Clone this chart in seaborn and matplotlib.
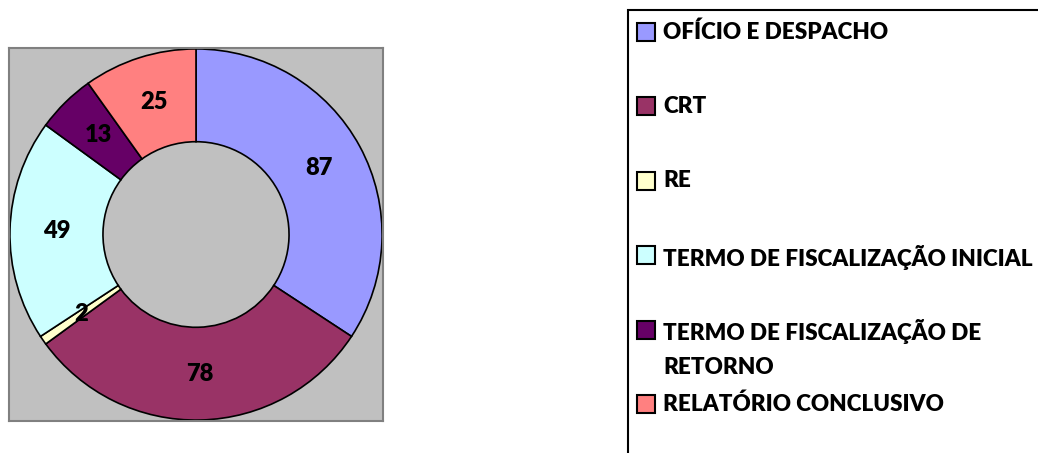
import matplotlib
matplotlib.use("Agg")
import matplotlib.pyplot as plt
from matplotlib.patches import Rectangle
import seaborn as sns

categories = ["OFÍCIO E DESPACHO", "CRT", "RE", "TERMO DE FISCALIZAÇÃO INICIAL",
              "TERMO DE FISCALIZAÇÃO DE\nRETORNO", "RELATÓRIO CONCLUSIVO"]
values = [87, 78, 2, 49, 13, 25]
colors = ["#9999FF", "#993366", "#FFFFCC", "#CCFFFF", "#660066", "#FF8080"]

sns.set_style("white")
plt.rcParams['font.family'] = ['Lato', 'DejaVu Sans']
palette = sns.color_palette(colors)

W, H = 1038, 453
fig = plt.figure(figsize=(W / 100, H / 100), dpi=100)

def fx(px):
    return px / W

def fy(py):
    return 1 - py / H

FW = "heavy"

# pie plot area
ax = fig.add_axes([fx(9), fy(421), fx(383) - fx(9), fy(48) - fy(421)])
wedges, texts = ax.pie(values, colors=palette, startangle=90, counterclock=False,
                       radius=1.0, labels=[str(v) for v in values], labeldistance=0.75,
                       wedgeprops=dict(width=0.5, edgecolor="black", linewidth=1.2),
                       textprops=dict(fontsize=17, fontweight=FW, color="black",
                                      ha="center", va="center"))
ax.set_frame_on(True)
ax.set_facecolor("#C0C0C0")
ax.set_xlim(-1.005, 1.005)
ax.set_ylim(-1.005, 1.005)
ax.set_aspect("auto")
for s in ax.spines.values():
    s.set_visible(True)
    s.set_color("#808080")
    s.set_linewidth(1.5)
ax.set_xticks([])
ax.set_yticks([])

# legend box (extends beyond the figure edges)
fig.patches.append(Rectangle((fx(628), fy(470)), fx(1100) - fx(628), fy(10) - fy(470),
                             transform=fig.transFigure, facecolor="none",
                             edgecolor="black", linewidth=1.5, clip_on=False))

row0, step = 32, 74.4
for i, (lab, col) in enumerate(zip(categories, palette)):
    yc = row0 + i * step
    fig.patches.append(Rectangle((fx(637), fy(yc + 9)), fx(655) - fx(637), fy(yc - 9) - fy(yc + 9),
                                 transform=fig.transFigure, facecolor=col,
                                 edgecolor="black", linewidth=1.5))
    fig.text(fx(663), fy(yc - 10.5), lab, ha="left", va="top", fontsize=16.2,
             fontweight=FW, color="black", linespacing=1.75)

fig.savefig("out.png", dpi=100)
